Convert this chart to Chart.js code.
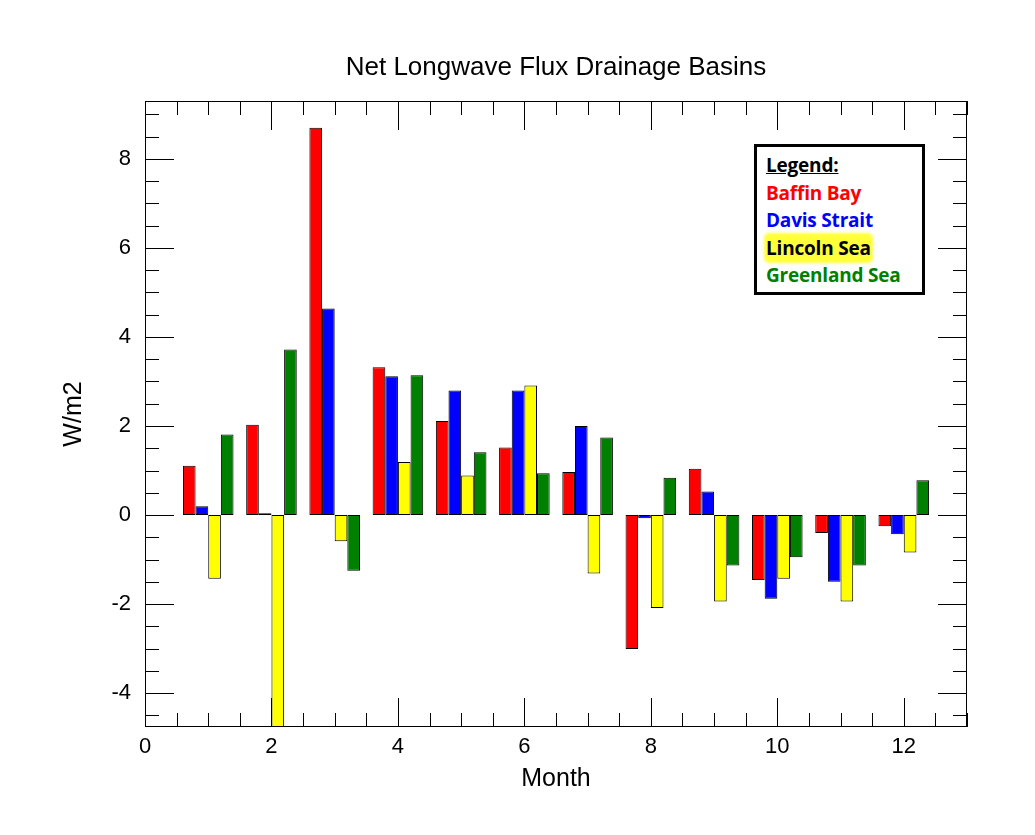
<!DOCTYPE html>
<html>
<head>
<meta charset="utf-8">
<script src="https://cdn.jsdelivr.net/npm/chart.js@4.4.1/dist/chart.umd.min.js"></script>
<style>
  html, body { margin: 0; padding: 0; background: #fff; }
  #wrap { position: relative; width: 1035px; height: 835px; }
  #legendBox {
    position: absolute; left: 754px; top: 144px; width: 171px; height: 151px;
    box-sizing: border-box; border: 3px solid #000; background: #fff;
    font-family: "Open Sans", "Liberation Sans", sans-serif; font-weight: bold;
    font-size: 19px; line-height: 27.5px; padding: 5px 0 0 9px; letter-spacing: -0.2px;
  }
  #legendBox div { white-space: nowrap; }
  .hl { background: #ffff3a; box-shadow: 0 0 3px 2px #ffff3a; border-radius: 3px; }
</style>
</head>
<body>
<div id="wrap">
  <canvas id="c" width="1035" height="835"></canvas>
  <div id="legendBox"></div>
</div>
<script>
// ---- data ----
const TITLE = 'Net Longwave Flux Drainage Basins';
const X_TITLE = 'Month';
const Y_TITLE = 'W/m2';
const months = [1, 2, 3, 4, 5, 6, 7, 8, 9, 10, 11, 12];
const seriesNames = ['Baffin Bay', 'Davis Strait', 'Lincoln Sea', 'Greenland Sea'];
const baffinBay    = [1.11, 2.03, 8.70, 3.32, 2.11, 1.52, 0.97, -3.01, 1.04, -1.46, -0.40, -0.25];
const davisStrait  = [0.20, 0.04, 4.64, 3.12, 2.80, 2.80, 2.00, -0.07, 0.53, -1.88, -1.50, -0.43];
const lincolnSea   = [-1.43, -5.50, -0.59, 1.19, 0.89, 2.91, -1.31, -2.09, -1.94, -1.43, -1.94, -0.84];
const greenlandSea = [1.81, 3.72, -1.25, 3.14, 1.41, 0.94, 1.74, 0.84, -1.13, -0.95, -1.13, 0.78];
const xMin = 0, xMax = 13, xStep = 2;
const yMin = -4.76, yMax = 9.3, yStep = 2;
const minorStep = 0.5;

const colors = ['#ff0000', '#0000ff', '#ffff00', '#008000'];
const legendText = ['#ff0000', '#0000ff', '#000000', '#008000'];

// ---- legend (HTML text) ----
const lb = document.getElementById('legendBox');
lb.innerHTML = '<div style="color:#000"><u>Legend:</u></div>' +
  seriesNames.map((n, i) => i === 2
    ? '<div style="color:' + legendText[i] + '"><span class="hl">' + n + '</span></div>'
    : '<div style="color:' + legendText[i] + '">' + n + '</div>').join('');

Chart.defaults.font.family = '"Liberation Sans", Arial, Helvetica, sans-serif';
Chart.defaults.color = '#000';

const allSeries = [baffinBay, davisStrait, lincolnSea, greenlandSea];
const datasets = allSeries.map((vals, i) => ({
  label: seriesNames[i],
  data: months.map((m, k) => ({ x: m, y: vals[k] })),
  backgroundColor: colors[i],
  borderColor: '#000',
  borderWidth: 1,
  borderSkipped: false,
  categoryPercentage: 0.8,
  barPercentage: 1.0
}));

const frameTicks = {
  id: 'frameTicks',
  beforeDatasetsDraw(chart) {
    const { ctx, chartArea: a } = chart;
    const xs = chart.scales.x, ys = chart.scales.y;
    ctx.save();
    ctx.strokeStyle = '#000';
    ctx.lineWidth = 1;
    ctx.beginPath();
    for (let v = Math.ceil(xs.min / minorStep) * minorStep; v <= xs.max + 1e-9; v += minorStep) {
      const major = Math.abs(v / xStep - Math.round(v / xStep)) < 1e-9;
      const len = major ? 29 : 14;
      const px = Math.round(xs.getPixelForValue(v)) + 0.5;
      ctx.moveTo(px, a.bottom); ctx.lineTo(px, a.bottom - len);
      ctx.moveTo(px, a.top); ctx.lineTo(px, a.top + len);
    }
    for (let v = Math.ceil(ys.min / minorStep) * minorStep; v <= ys.max + 1e-9; v += minorStep) {
      const major = Math.abs(v / yStep - Math.round(v / yStep)) < 1e-9;
      const len = major ? 29 : 14;
      const py = Math.round(ys.getPixelForValue(v)) + 0.5;
      ctx.moveTo(a.left, py); ctx.lineTo(a.left + len, py);
      ctx.moveTo(a.right, py); ctx.lineTo(a.right - len, py);
    }
    ctx.stroke();
    ctx.restore();
  },
  afterDatasetsDraw(chart) {
    const { ctx, chartArea: a } = chart;
    ctx.save();
    ctx.strokeStyle = '#000';
    ctx.lineWidth = 1;
    ctx.strokeRect(Math.round(a.left) + 0.5, Math.round(a.top) + 0.5,
                   Math.round(a.right - a.left) - 1, Math.round(a.bottom - a.top) - 1);
    ctx.restore();
  },
  afterDraw(chart) {
    const { ctx, chartArea: a } = chart;
    ctx.save();
    ctx.font = '26px "Liberation Sans", Arial, sans-serif';
    ctx.fillStyle = '#000';
    ctx.textAlign = 'center';
    ctx.textBaseline = 'alphabetic';
    ctx.fillText(TITLE, (a.left + a.right) / 2, 74.5);
    ctx.restore();
  }
};

new Chart(document.getElementById('c'), {
  type: 'bar',
  data: { datasets },
  options: {
    responsive: false,
    animation: false,
    devicePixelRatio: 1,
    layout: { padding: { top: 101, right: 68, bottom: 0, left: 0 } },
    plugins: { legend: { display: false }, tooltip: { enabled: false }, title: { display: false } },
    scales: {
      x: {
        type: 'linear', min: xMin, max: xMax, offset: false,
        grid: { display: false, drawTicks: false },
        border: { display: false },
        ticks: { stepSize: xStep, includeBounds: false, padding: 7, autoSkip: false, maxRotation: 0,
                 font: { size: 22 }, color: '#000' },
        title: { display: true, text: X_TITLE, font: { size: 25 }, color: '#000', padding: { top: 0, bottom: 41 } },
        afterFit(s) { s.height = 108; }
      },
      y: {
        type: 'linear', min: yMin, max: yMax,
        grid: { display: false, drawTicks: false },
        border: { display: false },
        ticks: { stepSize: yStep, includeBounds: false, padding: 14, font: { size: 22 }, color: '#000' },
        title: { display: true, text: Y_TITLE, font: { size: 25 }, color: '#000', padding: { top: 59, bottom: 0 } },
        afterFit(s) { s.width = 145; }
      }
    }
  },
  plugins: [frameTicks]
});
</script>
</body>
</html>
